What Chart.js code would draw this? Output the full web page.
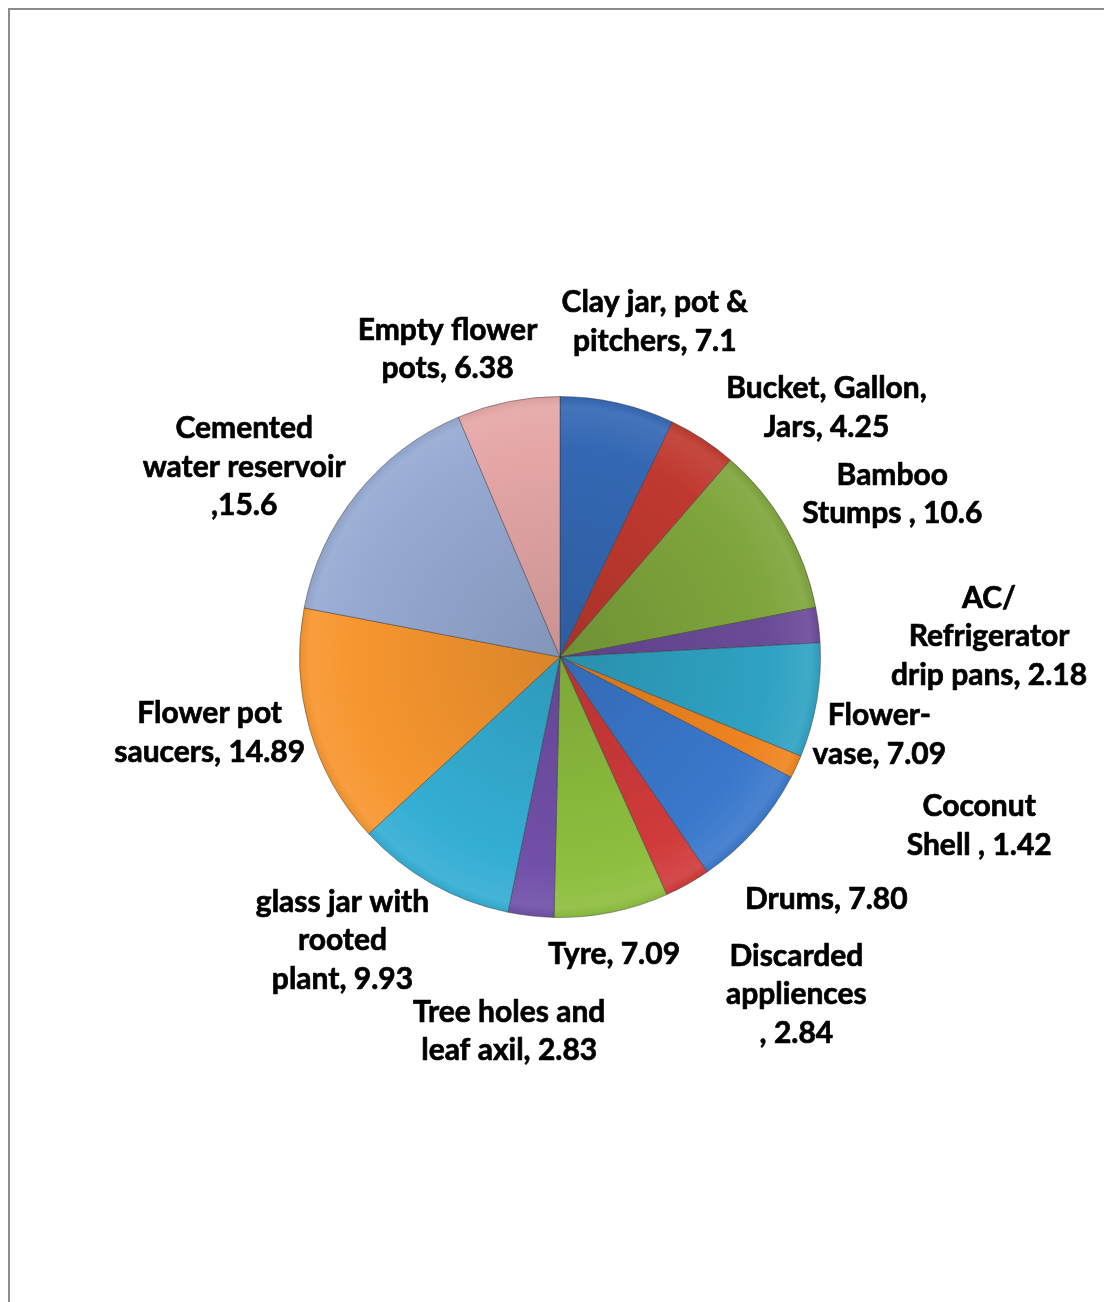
<!DOCTYPE html>
<html>
<head>
<meta charset="utf-8">
<script src="https://cdn.jsdelivr.net/npm/chart.js@4.4.1/dist/chart.umd.min.js"></script>
<style>
html,body{margin:0;padding:0;background:#fff;}
#wrap{position:relative;width:1104px;height:1302px;overflow:hidden;}
#frame{position:absolute;left:8px;top:8px;width:1200px;height:1400px;border-left:2px solid #8c8c8c;border-top:2px solid #8c8c8c;box-sizing:border-box;}
canvas{position:absolute;left:0;top:0;}
</style>
</head>
<body>
<div id="wrap">
<div id="frame"></div>
<canvas id="c" width="1104" height="1302"></canvas>
</div>
<script>
// ---- data ----
const categories = [
  "Clay jar, pot & pitchers", "Bucket, Gallon, Jars", "Bamboo Stumps", "AC/ Refrigerator drip pans",
  "Flower-vase", "Coconut Shell", "Drums", "Discarded appliences", "Tyre",
  "Tree holes and leaf axil", "glass jar with rooted plant", "Flower pot saucers",
  "Cemented water reservoir", "Empty flower pots"
];
const values = [7.1, 4.25, 10.6, 2.18, 7.09, 1.42, 7.80, 2.84, 7.09, 2.83, 9.93, 14.89, 15.6, 6.38];
const labelLines = [
  ["Clay jar, pot &", "pitchers, 7.1"],
  ["Bucket, Gallon,", "Jars, 4.25"],
  ["Bamboo", "Stumps , 10.6"],
  ["AC/", "Refrigerator", "drip pans, 2.18"],
  ["Flower-", "vase, 7.09"],
  ["Coconut", "Shell , 1.42"],
  ["Drums, 7.80"],
  ["Discarded", "appliences", ", 2.84"],
  ["Tyre, 7.09"],
  ["Tree holes and", "leaf axil, 2.83"],
  ["glass jar with", "rooted", "plant, 9.93"],
  ["Flower pot", "saucers, 14.89"],
  ["Cemented", "water reservoir", ",15.6"],
  ["Empty flower", "pots, 6.38"]
];
const colors = [
  "#3468B4", "#C0392F", "#7FA53C", "#6A4B98", "#2FA2C3", "#EE8420", "#3A78CC",
  "#D03A3A", "#8DBE3E", "#7150A8", "#34AED3", "#F7962F", "#95A9D2", "#E5A6A6"
];
// label placement: radial factor (x radius) and angle adjustment (deg) from slice mid-angle
const labelRadius = [1.338, 1.401, 1.42, 1.649, 1.262, 1.735, 1.383, 1.582, 1.16, 1.45, 1.372, 1.376, 1.415, 1.257];
const labelAngleAdj = [3.0, 13.7, 4.0, 4.3, 4.1, -3.0, 0.8, -5.7, 1.1, 1.3, 8.1, 3.7, -7.9, -8.6];

function shade(hex, amt){
  const n = parseInt(hex.slice(1),16);
  let r=(n>>16)&255, g=(n>>8)&255, b=n&255;
  const f = v => amt>=0 ? Math.round(v+(255-v)*amt) : Math.round(v*(1+amt));
  return `rgb(${f(r)},${f(g)},${f(b)})`;
}

const labelPlugin = {
  id: 'outLabels',
  afterDatasetsDraw(chart){
    const ctx = chart.ctx;
    const meta = chart.getDatasetMeta(0);
    ctx.save();
    ctx.fillStyle = '#000';
    ctx.strokeStyle = '#000';
    ctx.lineWidth = 0.7;
    ctx.lineJoin = 'round';
    ctx.font = 'bold 30px Lato, "Open Sans", sans-serif';
    ctx.textAlign = 'center';
    ctx.textBaseline = 'middle';
    const lh = 38.5;
    meta.data.forEach((arc, i) => {
      const mid = (arc.startAngle + arc.endAngle)/2 + labelAngleAdj[i]*Math.PI/180;
      const d = arc.outerRadius * labelRadius[i];
      const x = arc.x + Math.cos(mid)*d;
      const y = arc.y + Math.sin(mid)*d;
      const lines = labelLines[i];
      const y0 = y - (lines.length-1)*lh/2;
      lines.forEach((t, j) => {
        ctx.fillText(t, x, y0 + j*lh);
        ctx.strokeText(t, x, y0 + j*lh);
      });
    });
    ctx.restore();
  }
};

new Chart(document.getElementById('c'), {
  type: 'pie',
  data: {
    labels: categories,
    datasets: [{
      data: values,
      backgroundColor: (c) => {
        const base = colors[c.dataIndex];
        const ca = c.chart.chartArea;
        if (!ca) return base;
        const cx = (ca.left+ca.right)/2, cy = (ca.top+ca.bottom)/2;
        const r = Math.min(ca.right-ca.left, ca.bottom-ca.top)/2;
        const g = c.chart.ctx.createRadialGradient(cx, cy, 0, cx, cy, r);
        g.addColorStop(0, shade(base, -0.12));
        g.addColorStop(0.8, base);
        g.addColorStop(0.96, shade(base, 0.08));
        g.addColorStop(1, shade(base, -0.05));
        return g;
      },
      borderColor: 'rgba(50,50,50,0.45)',
      borderWidth: 1
    }]
  },
  options: {
    responsive: false,
    animation: false,
    layout: { padding: { left: 299, right: 283, top: 396, bottom: 384 } },
    plugins: { legend: { display: false }, tooltip: { enabled: false } }
  },
  plugins: [labelPlugin]
});
</script>
</body>
</html>
